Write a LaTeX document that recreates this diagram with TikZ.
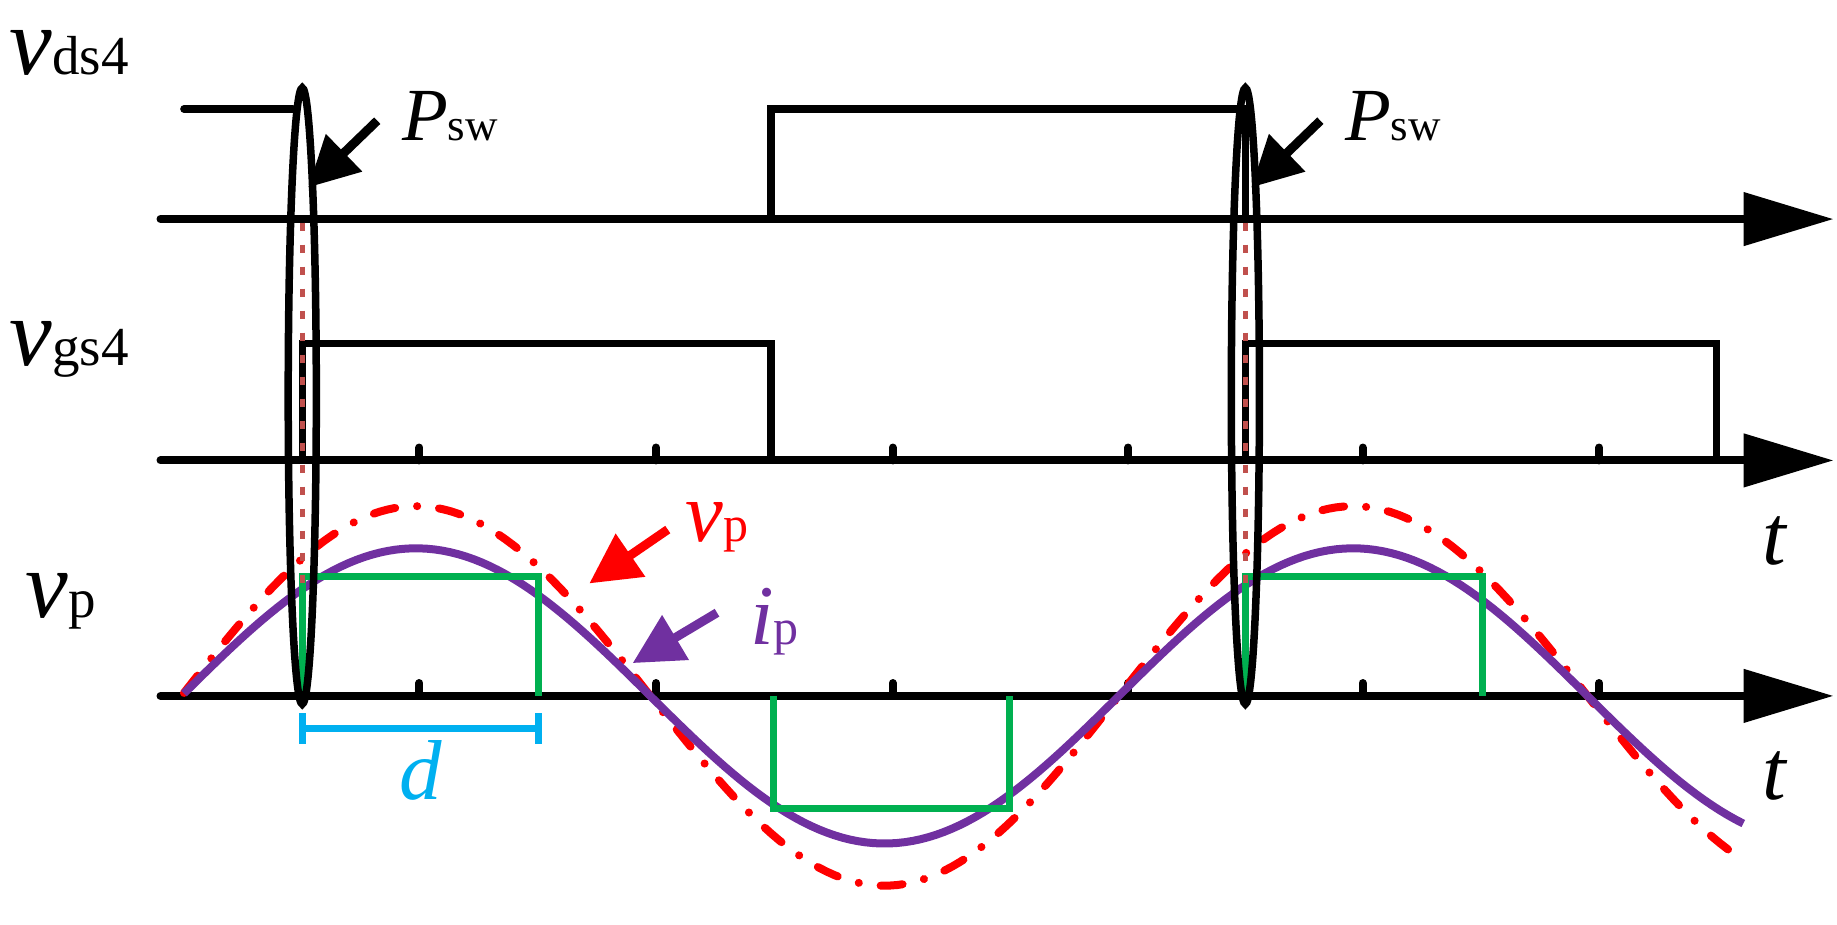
\documentclass[tikz,border=0pt]{standalone}
\usepackage{fontspec}
\setmainfont{Liberation Serif}
\usetikzlibrary{arrows.meta}
\definecolor{gr}{RGB}{0,176,80}
\definecolor{pu}{RGB}{112,48,160}
\definecolor{bl}{RGB}{0,176,240}
\definecolor{br}{RGB}{192,80,77}
\begin{document}
\begin{tikzpicture}[x=1.1716pt,y=-1.1716pt,
  ax/.style={line width=8pt,line cap=round,-{Triangle[length=90pt,width=52pt]}},
  sig/.style={line width=7.5pt,line join=miter},
  tick/.style={line width=8pt,line cap=round},
  lbl/.style={font=\fontsize{75}{75}\selectfont,inner sep=0pt},
  parr/.style={line width=9pt,-{Triangle[length=50pt,width=50pt]}}]
\useasboundingbox (0,0) rectangle (1568,789);
% axes
\coordinate (a1s) at (137,187); \coordinate (a1e) at (1565,187);
\coordinate (a2s) at (137,393); \coordinate (a2e) at (1565,393);
\coordinate (a3s) at (137,594); \coordinate (a3e) at (1565,594);
\draw[ax] (a1s) -- (a1e);
\draw[ax] (a2s) -- (a2e);
\draw[ax] (a3s) -- (a3e);
\foreach \x in {358,560,762,963,1163,1365}{
  \draw[tick] (\x,393) -- (\x,382);
  \draw[tick] (\x,594) -- (\x,583);}
% vds4
\draw[sig,line cap=round] (157,93) -- (250,93);
\draw[sig] (658,187) -- (658,93) -- (1063,93) -- (1063,187);
% vgs4
\draw[sig] (258,393) -- (258,293) -- (658,293) -- (658,393);
\draw[sig] (1063,393) -- (1063,293) -- (1465,293) -- (1465,393);
% waves
\draw[red,line width=8pt,line cap=round,dash pattern=on 22pt off 22pt on 0.1pt off 22pt,domain=157:1488,samples=200]
  plot (\x,{594-162*sin(0.45*(\x-155))});
\draw[pu,line width=8pt,domain=157:1488,samples=200]
  plot (\x,{594-126*sin(0.45*(\x-155))});
% green
\draw[gr,line width=7pt] (258,594) -- (258,492) -- (460,492) -- (460,594);
\draw[gr,line width=7pt] (660,594) -- (660,690) -- (862,690) -- (862,594);
\draw[gr,line width=7pt] (1063,594) -- (1063,492) -- (1265,492) -- (1265,594);
% ellipses
\foreach \x in {258,1063}{
  \draw[br,line width=5pt,dash pattern=on 8pt off 14pt] (\x,190) -- (\x,500);
  \draw[line width=7.5pt] (\x,338) ellipse [x radius=12,y radius=263];}
% Psw arrows
\coordinate (pa1) at (322,103); \coordinate (pb1) at (263,160);
\coordinate (pa2) at (1127,103); \coordinate (pb2) at (1068,160);
\draw[parr] (pa1) -- (pb1);
\draw[parr] (pa2) -- (pb2);
\node[lbl,anchor=base west] (psw1) at (343,120) {\textit{P}\fontsize{45}{45}\selectfont sw};
\node[lbl,anchor=base west] (psw2) at (1148,120) {\textit{P}\fontsize{45}{45}\selectfont sw};
% vp / ip arrows
\coordinate (ra) at (570,452); \coordinate (rb) at (503,498);
\draw[parr,red] (ra) -- (rb);
\node[lbl,anchor=base west,text=red] (vpr) at (585,462) {\fontsize{85}{85}\selectfont\textit{v}\fontsize{50}{50}\selectfont p};
\coordinate (ua) at (612,523); \coordinate (ub) at (540,566);
\draw[parr,pu] (ua) -- (ub);
\node[lbl,anchor=base west,text=pu] (ipl) at (640,550) {\fontsize{85}{85}\selectfont\textit{i}\fontsize{50}{50}\selectfont p};
% d
\draw[bl,line width=7pt] (258,609) -- (258,635) (258,622) -- (460,622) (460,609) -- (460,635);
\node[lbl,text=bl,anchor=base] (dl) at (359,682) {\fontsize{85}{85}\selectfont\textit{d}};
% left labels
\node[lbl,anchor=base west] (l1) at (8,64) {\fontsize{96}{96}\selectfont\textit{v}\fontsize{55}{55}\selectfont ds4};
\node[lbl,anchor=base west] (l2) at (8,312) {\fontsize{96}{96}\selectfont\textit{v}\fontsize{55}{55}\selectfont gs4};
\node[lbl,anchor=base west] (l3) at (22,527) {\fontsize{96}{96}\selectfont\textit{v}\fontsize{55}{55}\selectfont p};
\node[lbl,anchor=base] (t1) at (1515,482) {\fontsize{85}{85}\selectfont\textit{t}};
\node[lbl,anchor=base] (t2) at (1515,682) {\fontsize{85}{85}\selectfont\textit{t}};
\end{tikzpicture}
\end{document}
